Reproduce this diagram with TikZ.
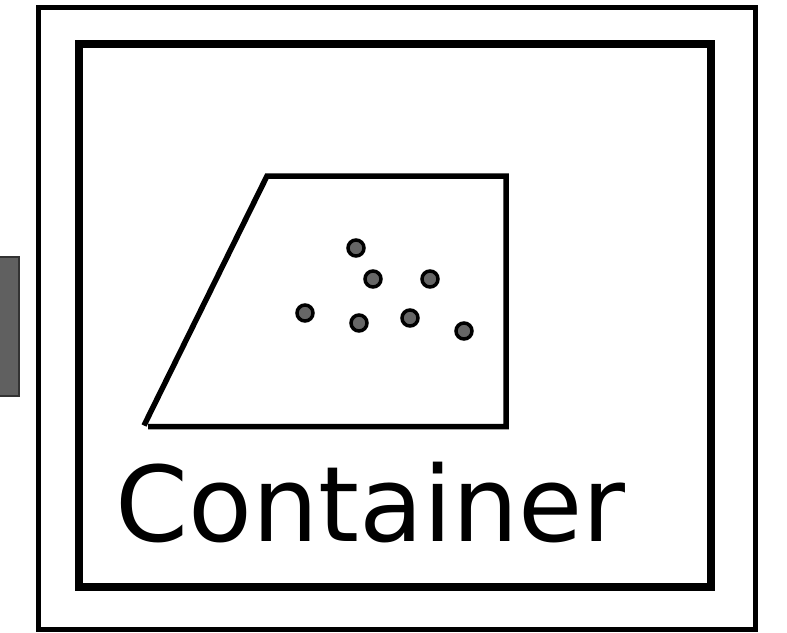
\documentclass[tikz,border=0pt]{standalone}
\usepackage{fontspec}
\setmainfont{DejaVu Sans}
\definecolor{dotgray}{HTML}{666666}
\definecolor{tabgray}{HTML}{606060}
\tikzset{
  frameline/.style={draw=black, line width=5pt},
  innerline/.style={draw=black, line width=8pt},
  dotmark/.style={circle, fill=dotgray, draw=black, line width=3.5pt, minimum size=16pt, inner sep=0pt},
}
\begin{document}
\begin{tikzpicture}[x=1pt, y=-1pt]
    \useasboundingbox (0,0) rectangle (787,632);
    % tab on the left side
    \draw[fill=tabgray, draw=black!80, line width=2pt] (-5,257) rectangle (19,396);

    % outer and inner frames
    \draw[frameline] (38.5,7.5) rectangle (755,629.5);
    \draw[innerline] (79,44) rectangle (711,587);

    % open trapezoid
    \draw[line width=5.5pt] (148,426.5) -- (506,426.5) -- (506,176) -- (267,176) -- (144,425.5);

    % dots inside the trapezoid
    \foreach \name/\x/\y in {d1/356/248, d2/373/279, d3/430/279, d4/305/313,
                             d5/359/323, d6/410/318, d7/464/331}
        \node[dotmark] (\name) at (\x,\y) {};

    % label
    \node[anchor=base, inner sep=0pt, font=\fontsize{104.5}{120}\selectfont] (label) at (370.5,541) {Container};
\end{tikzpicture}
\end{document}
